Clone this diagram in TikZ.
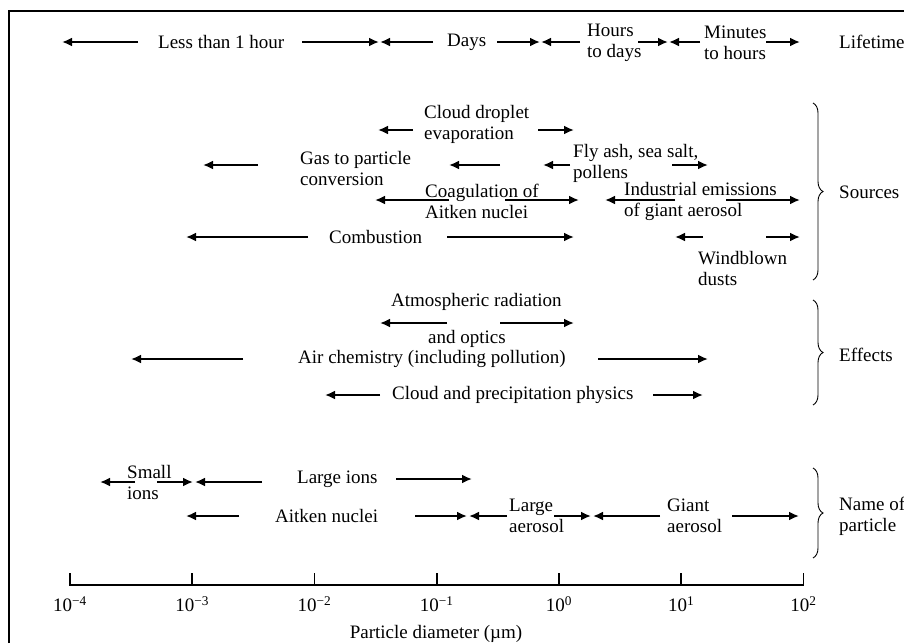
\documentclass[tikz,border=0pt]{standalone}
\usepackage{fontspec}
\setmainfont{Liberation Serif}
\usepackage{tikz}
\usetikzlibrary{arrows.meta, decorations.pathreplacing}

\begin{document}
\begin{tikzpicture}[x=1pt, y=-1pt,
  txt/.style={font=\fontsize{19}{21}\selectfont, inner sep=0pt, anchor=west, align=left},
  rng/.style={-{Latex[length=10pt, width=9pt]}, line width=2.6pt},
  brc/.style={decorate, decoration={brace, amplitude=10pt}, line width=0.9pt}]

% Fix page size
\useasboundingbox (0,0) rectangle (904,643);

% Draw frame (cut at right and bottom)
\draw[line width=2.5pt] (9,643) -- (9,11) -- (904,11);

% Lifetime row
\node[txt] (hour) at (158,42) {Less than 1 hour};
\node[txt] (days) at (447,42) {Days};
\node[txt] (hrsdays) at (587,43) {Hours\\to days};
\node[txt] (minhrs) at (704,43) {Minutes\\to hours};
\node[txt] (life) at (839,42) {Lifetime};
\draw[rng] (138,42) -- (62,42);
\draw[rng] (302,42) -- (379,42);
\draw[rng] (433,42) -- (380,42);
\draw[rng] (497,42) -- (540,42);
\draw[rng] (580,42) -- (541,42);
\draw[rng] (638,42) -- (668,42);
\draw[rng] (700,42) -- (669,42);
\draw[rng] (766,42) -- (800,42);

% Sources
\node[txt] (cloud) at (424,124) {Cloud droplet\\evaporation};
\draw[rng] (413,130) -- (378,130);
\draw[rng] (538,130) -- (574,130);
\node[txt] (gas) at (300,168) {Gas to particle\\conversion};
\node[txt] (fly) at (573,163) {Fly ash, sea salt,\\pollens};
\draw[rng] (258,165) -- (203,165);
\draw[rng] (500,165) -- (449,165);
\draw[rng] (570,165) -- (543,165);
\draw[rng] (672,165) -- (708,165);
\node[txt] (coag) at (425,201) {Coagulation of\\Aitken nuclei};
\draw[rng] (449,200) -- (375,200);
\draw[rng] (505,200) -- (579,200);
\node[txt] (indus) at (624,201) {Industrial emissions\\of giant aerosol};
\draw[rng] (675,200) -- (605,200);
\draw[rng] (726,200) -- (800,200);
\node[txt] (comb) at (329,237) {Combustion};
\draw[rng] (308,237) -- (186,237);
\draw[rng] (447,237) -- (574,237);
\node[txt] (wind) at (698,268) {Windblown\\dusts};
\draw[rng] (703,237) -- (675,237);
\draw[rng] (766,237) -- (800,237);
\draw[brc] (813,103) -- (813,280);
\node[txt] (src) at (839,192) {Sources};

% Effects
\node[txt] (atmo) at (391,302) {Atmospheric radiation};
\node[txt] (optics) at (428,339) {and optics};
\draw[rng] (447,323) -- (380,323);
\draw[rng] (500,323) -- (574,323);
\node[txt] (chem) at (298,359) {Air chemistry (including pollution)};
\draw[rng] (243,359) -- (131,359);
\draw[rng] (598,359) -- (708,359);
\node[txt] (precip) at (392,395) {Cloud and precipitation physics};
\draw[rng] (380,395) -- (325,395);
\draw[rng] (653,395) -- (703,395);
\draw[brc] (813,300) -- (813,405);
\node[txt] (eff) at (839,355) {Effects};

% Name of particle
\node[txt] (small) at (127,482) {Small\\ions};
\draw[rng] (135,482) -- (100,482);
\draw[rng] (157,482) -- (193,482);
\draw[rng] (262,482) -- (195,482);
\node[txt] (lions) at (297,479) {Large ions};
\draw[rng] (396,479) -- (472,479);
\node[txt] (aitken) at (275,516) {Aitken nuclei};
\draw[rng] (239,516) -- (186,516);
\draw[rng] (415,516) -- (467,516);
\draw[rng] (507,516) -- (469,516);
\node[txt] (laero) at (509,516) {Large\\aerosol};
\draw[rng] (554,516) -- (591,516);
\draw[rng] (660,516) -- (593,516);
\node[txt] (gaero) at (667,516) {Giant\\aerosol};
\draw[rng] (732,516) -- (799,516);
\draw[brc] (813,468) -- (813,558);
\node[txt] (name) at (839,516) {Name of\\particle};

% Draw diameter axis
\draw[line width=1.8pt] (70,573) -- (70,585) -- (803.5,585) -- (803.5,573);
\foreach \d in {1,...,5}
  \draw[line width=1.8pt] ({70+122.25*\d},573) -- ++(0,12);
\foreach \e [count=\i from 0] in {−4,−3,−2,−1,0,1,2}
  \node[txt, anchor=center] (tick\i) at ({70+122.25*\i},604) {10\textsuperscript{\e}};
\node[txt, anchor=center] (xlabel) at (436,634) {Particle diameter (µm)};

\end{tikzpicture}
\end{document}
